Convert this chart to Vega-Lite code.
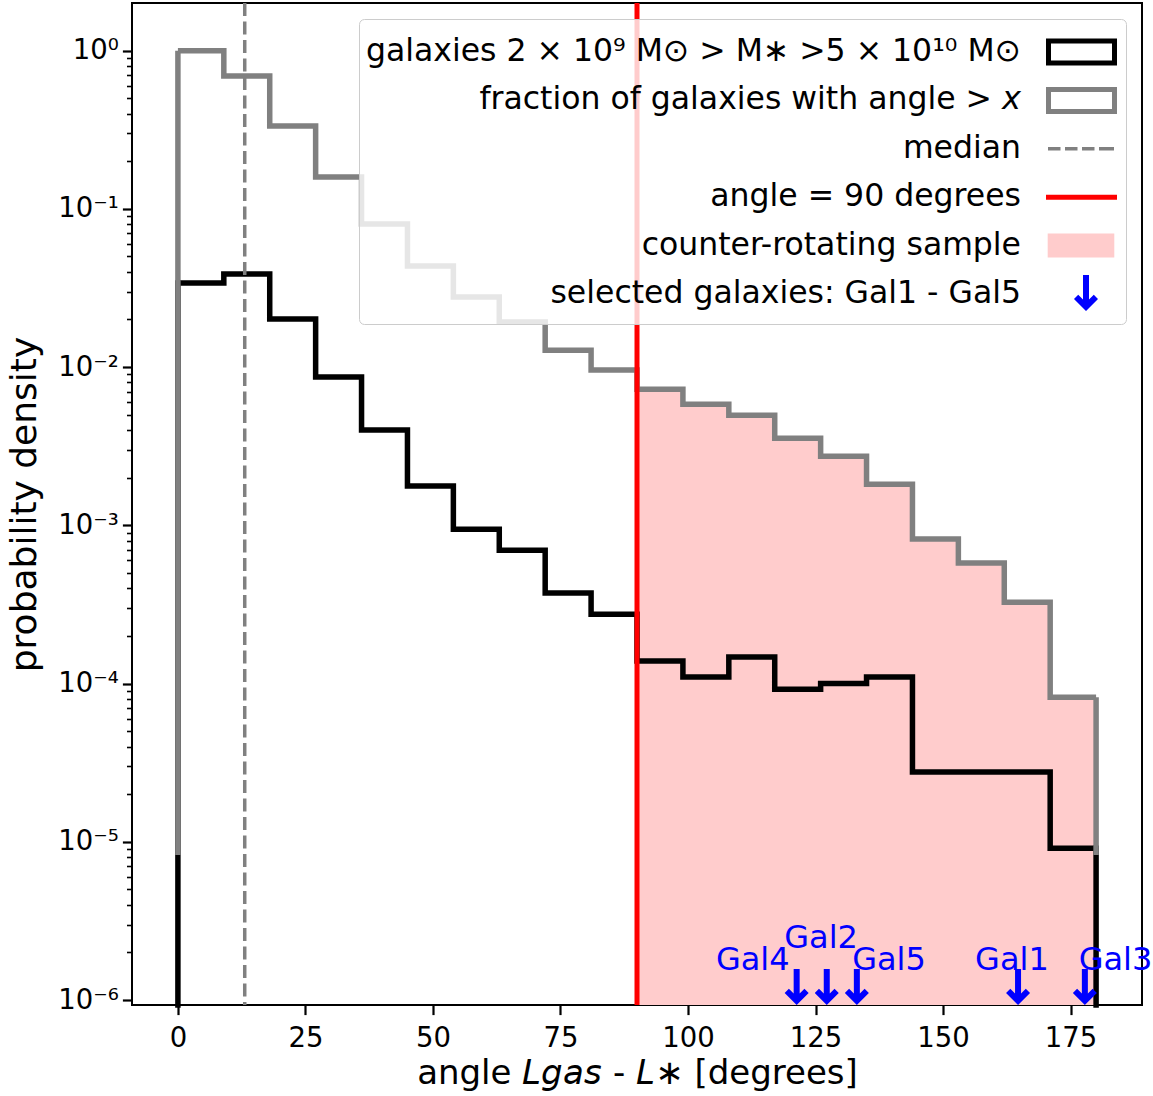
{
  "$schema": "https://vega.github.io/schema/vega-lite/v6.json",
  "width": 1010,
  "height": 1002,
  "autosize": {"type": "none"},
  "padding": {"left": 132, "top": 3, "right": 11, "bottom": 91},
  "background": "white",
  "config": {
    "font": "DejaVu Sans",
    "view": {"stroke": "#000000", "strokeWidth": 2},
    "axis": {
      "labelFont": "DejaVu Sans", "labelFontSize": 27.5, "labelColor": "#000000",
      "titleFont": "DejaVu Sans", "titleFontWeight": "normal", "titleColor": "#000000",
      "tickColor": "#000000", "grid": false, "domain": false
    }
  },
  "datasets": {
    "hist": [
      {"angle": 0, "density": 0.034, "fraction": 1.0},
      {"angle": 9, "density": 0.0388, "fraction": 0.692},
      {"angle": 18, "density": 0.0201, "fraction": 0.334},
      {"angle": 27, "density": 0.00865, "fraction": 0.159},
      {"angle": 36, "density": 0.0040, "fraction": 0.0803},
      {"angle": 45, "density": 0.00177, "fraction": 0.0436},
      {"angle": 54, "density": 0.000946, "fraction": 0.0277},
      {"angle": 63, "density": 0.000697, "fraction": 0.0193},
      {"angle": 72, "density": 0.000373, "fraction": 0.0128},
      {"angle": 81, "density": 0.000274, "fraction": 0.00957},
      {"angle": 90, "density": 0.000139, "fraction": 0.00725},
      {"angle": 99, "density": 0.00011, "fraction": 0.00582},
      {"angle": 108, "density": 0.000147, "fraction": 0.00496},
      {"angle": 117, "density": 0.000092, "fraction": 0.00355},
      {"angle": 126, "density": 0.0001, "fraction": 0.00273},
      {"angle": 135, "density": 0.00011, "fraction": 0.00182},
      {"angle": 144, "density": 0.0000276, "fraction": 0.000819},
      {"angle": 153, "density": 0.0000276, "fraction": 0.000577},
      {"angle": 162, "density": 0.0000276, "fraction": 0.000327},
      {"angle": 171, "density": 0.0000091, "fraction": 0.000082},
      {"angle": 180, "density": 0.0000091, "fraction": 0.000082}
    ],
    "lines": [
      {"name": "median", "angle": 13.1},
      {"name": "angle = 90 degrees", "angle": 90}
    ],
    "gals": [
      {"name": "Gal4", "angle": 121.3, "label_angle": 112.7, "label_level": 1.55e-6},
      {"name": "Gal2", "angle": 127.2, "label_angle": 126.1, "label_level": 2.13e-6},
      {"name": "Gal5", "angle": 133.1, "label_angle": 139.4, "label_level": 1.55e-6},
      {"name": "Gal1", "angle": 164.7, "label_angle": 163.5, "label_level": 1.55e-6},
      {"name": "Gal3", "angle": 177.8, "label_angle": 183.8, "label_level": 1.55e-6}
    ]
  },
  "layer": [
    {
      "data": {"name": "hist"},
      "transform": [{"filter": "datum.angle >= 90"}],
      "mark": {"type": "area", "interpolate": "step-after", "color": "#ffcccc", "opacity": 1},
      "encoding": {
        "x": {"field": "angle", "type": "quantitative", "title": "angle 𝘓𝘨𝘢𝘴 - 𝘓∗ [degrees]",
              "scale": {"domain": [-9, 189], "nice": false, "zero": false},
              "axis": {"values": [0, 25, 50, 75, 100, 125, 150, 175], "tickSize": 9.6, "tickWidth": 2.2,
                       "labelPadding": 9.6, "titleFontSize": 34, "titlePadding": 5}},
        "y": {"field": "fraction", "type": "quantitative", "title": "probability density",
              "scale": {"type": "log", "domain": [9.3e-7, 2.0], "nice": false},
              "axis": {
                "values": [1e-6, 2e-6, 3e-6, 4e-6, 5e-6, 6e-6, 7e-6, 8e-6, 9e-6,
                           1e-5, 2e-5, 3e-5, 4e-5, 5e-5, 6e-5, 7e-5, 8e-5, 9e-5,
                           1e-4, 2e-4, 3e-4, 4e-4, 5e-4, 6e-4, 7e-4, 8e-4, 9e-4,
                           1e-3, 2e-3, 3e-3, 4e-3, 5e-3, 6e-3, 7e-3, 8e-3, 9e-3,
                           0.01, 0.02, 0.03, 0.04, 0.05, 0.06, 0.07, 0.08, 0.09,
                           0.1, 0.2, 0.3, 0.4, 0.5, 0.6, 0.7, 0.8, 0.9, 1],
                "labelExpr": "abs(log(datum.value)/LN10 - round(log(datum.value)/LN10)) < 0.001 ? ['10⁰','10⁻¹','10⁻²','10⁻³','10⁻⁴','10⁻⁵','10⁻⁶'][-round(log(datum.value)/LN10)] : ''",
                "labelOverlap": false,
                "labelPadding": 4,
                "tickSize": {"condition": {"test": "abs(log(datum.value)/LN10 - round(log(datum.value)/LN10)) < 0.001", "value": 9.6}, "value": 5.5},
                "tickWidth": {"condition": {"test": "abs(log(datum.value)/LN10 - round(log(datum.value)/LN10)) < 0.001", "value": 2.2}, "value": 1.6},
                "titleFontSize": 36, "titlePadding": 14
              }},
        "y2": {"datum": 9.3e-7}
      }
    },
    {
      "data": {"name": "hist"},
      "mark": {"type": "line", "interpolate": "step-after", "color": "#000000", "strokeWidth": 5.5, "strokeJoin": "miter"},
      "encoding": {
        "x": {"field": "angle", "type": "quantitative", "title": "angle 𝘓𝘨𝘢𝘴 - 𝘓∗ [degrees]"},
        "y": {"field": "density", "type": "quantitative", "title": "probability density", "scale": {"type": "log"}}
      }
    },
    {
      "data": {"name": "hist"},
      "transform": [{"filter": "datum.angle == 0 || datum.angle == 180"}],
      "mark": {"type": "rule", "color": "#000000", "strokeWidth": 5.5, "strokeCap": "square"},
      "encoding": {
        "x": {"field": "angle", "type": "quantitative", "title": "angle 𝘓𝘨𝘢𝘴 - 𝘓∗ [degrees]"},
        "y": {"field": "density", "type": "quantitative", "title": "probability density", "scale": {"type": "log"}},
        "y2": {"datum": 9.3e-7}
      }
    },
    {
      "data": {"name": "hist"},
      "mark": {"type": "line", "interpolate": "step-after", "color": "#808080", "strokeWidth": 5.5, "strokeJoin": "miter"},
      "encoding": {
        "x": {"field": "angle", "type": "quantitative", "title": "angle 𝘓𝘨𝘢𝘴 - 𝘓∗ [degrees]"},
        "y": {"field": "fraction", "type": "quantitative", "title": "probability density", "scale": {"type": "log"}}
      }
    },
    {
      "data": {"name": "hist"},
      "transform": [{"filter": "datum.angle == 0 || datum.angle == 180"}],
      "mark": {"type": "rule", "color": "#808080", "strokeWidth": 5.5},
      "encoding": {
        "x": {"field": "angle", "type": "quantitative", "title": "angle 𝘓𝘨𝘢𝘴 - 𝘓∗ [degrees]"},
        "y": {"field": "fraction", "type": "quantitative", "title": "probability density", "scale": {"type": "log"}},
        "y2": {"datum": 8.24e-6}
      }
    },
    {
      "data": {"name": "lines"},
      "transform": [{"filter": "datum.name == 'median'"}],
      "mark": {"type": "rule", "color": "#808080", "strokeWidth": 3.5, "strokeDash": [13, 5.5]},
      "encoding": {
        "x": {"field": "angle", "type": "quantitative", "title": "angle 𝘓𝘨𝘢𝘴 - 𝘓∗ [degrees]"}
      }
    },
    {
      "data": {"name": "lines"},
      "transform": [{"filter": "datum.name != 'median'"}],
      "mark": {"type": "rule", "color": "#ff0000", "strokeWidth": 5},
      "encoding": {
        "x": {"field": "angle", "type": "quantitative", "title": "angle 𝘓𝘨𝘢𝘴 - 𝘓∗ [degrees]"}
      }
    },
    {
      "data": {"name": "gals"},
      "mark": {"type": "point", "shape": "M -3,-31 L 3,-31 L 3,-6.5 L 7.76,-11.24 L 12,-7 L 0,5 L -12,-7 L -7.76,-11.24 L -3,-6.5 Z",
               "size": 4, "filled": true, "fill": "#0000ff", "strokeWidth": 0, "opacity": 1},
      "encoding": {
        "x": {"field": "angle", "type": "quantitative", "title": "angle 𝘓𝘨𝘢𝘴 - 𝘓∗ [degrees]"},
        "y": {"datum": 1e-6, "type": "quantitative", "title": "probability density", "scale": {"type": "log"}}
      }
    },
    {
      "data": {"name": "gals"},
      "mark": {"type": "text", "fontSize": 32, "baseline": "alphabetic", "align": "center", "font": "DejaVu Sans"},
      "encoding": {
        "x": {"field": "label_angle", "type": "quantitative", "title": "angle 𝘓𝘨𝘢𝘴 - 𝘓∗ [degrees]"},
        "y": {"field": "label_level", "type": "quantitative", "title": "probability density", "scale": {"type": "log"}},
        "text": {"field": "name"},
        "color": {
          "datum": "selected galaxies: Gal1 - Gal5", "type": "nominal",
          "scale": {
            "domain": ["galaxies 2 × 10⁹ M⊙ > M∗ >5 × 10¹⁰ M⊙", "fraction of galaxies with angle > 𝘹", "median", "angle = 90 degrees", "counter-rotating sample", "selected galaxies: Gal1 - Gal5"],
            "range": ["#000000", "#808080", "#808080", "#ff0000", "#ffcccc", "#0000ff"]
          },
          "legend": {
            "title": null, "orient": "top-right", "offset": 16, "padding": 9,
            "fillColor": "rgba(255,255,255,0.8)", "strokeColor": "#cccccc", "cornerRadius": 5,
            "labelFont": "DejaVu Sans", "labelFontSize": 31.5, "labelColor": "#000000",
            "labelAlign": "right", "labelOffset": 605, "labelLimit": 3000,
            "rowPadding": 3.4, "symbolSize": 2304, "symbolStrokeWidth": 0, "symbolOpacity": 1,
            "encode": {
              "symbols": {
                "update": {
                  "shape": [
                    {"test": "datum.index === 0 || datum.index === 1", "value": "M 28.75,-1 L 28.75,-1 M 28.75,0.875 L 28.75,0.875 M 27.25,-0.5625 H 30.2083 V 0.5625 H 27.25 Z M 27.4583,-0.35417 V 0.35417 H 30 V -0.35417 Z"},
                    {"test": "datum.index === 2", "value": "M 28.75,-1 L 28.75,-1 M 28.75,0.875 L 28.75,0.875 M 27.3333,-0.072917 H 27.8542 V 0.072917 H 27.3333 Z M 28.0417,-0.072917 H 28.5625 V 0.072917 H 28.0417 Z M 28.75,-0.072917 H 29.2708 V 0.072917 H 28.75 Z M 29.4583,-0.072917 H 30.0833 V 0.072917 H 29.4583 Z"},
                    {"test": "datum.index === 3", "value": "M 28.75,-1 L 28.75,-1 M 28.75,0.875 L 28.75,0.875 M 27.25,-0.104167 H 30.2083 V 0.104167 H 27.25 Z"},
                    {"test": "datum.index === 4", "value": "M 28.75,-1 L 28.75,-1 M 28.75,0.875 L 28.75,0.875 M 27.3208,-0.5 H 30.0958 V 0.5 H 27.3208 Z"},
                    {"value": "M 28.75,-1 L 28.75,-1 M 28.75,0.875 L 28.75,0.875 M 28.7917,-0.79167 L 29.0417,-0.79167 L 29.0417,0.22917 L 29.24,0.031667 L 29.4167,0.20833 L 28.9167,0.70833 L 28.4167,0.20833 L 28.5933,0.031667 L 28.7917,0.22917 Z"}
                  ],
                  "stroke": {"value": "transparent"},
                  "strokeWidth": {"value": 0},
                  "opacity": {"value": 1},
                  "size": {"value": 2304}
                }
              }
            }
          }
        }
      }
    }
  ]
}
